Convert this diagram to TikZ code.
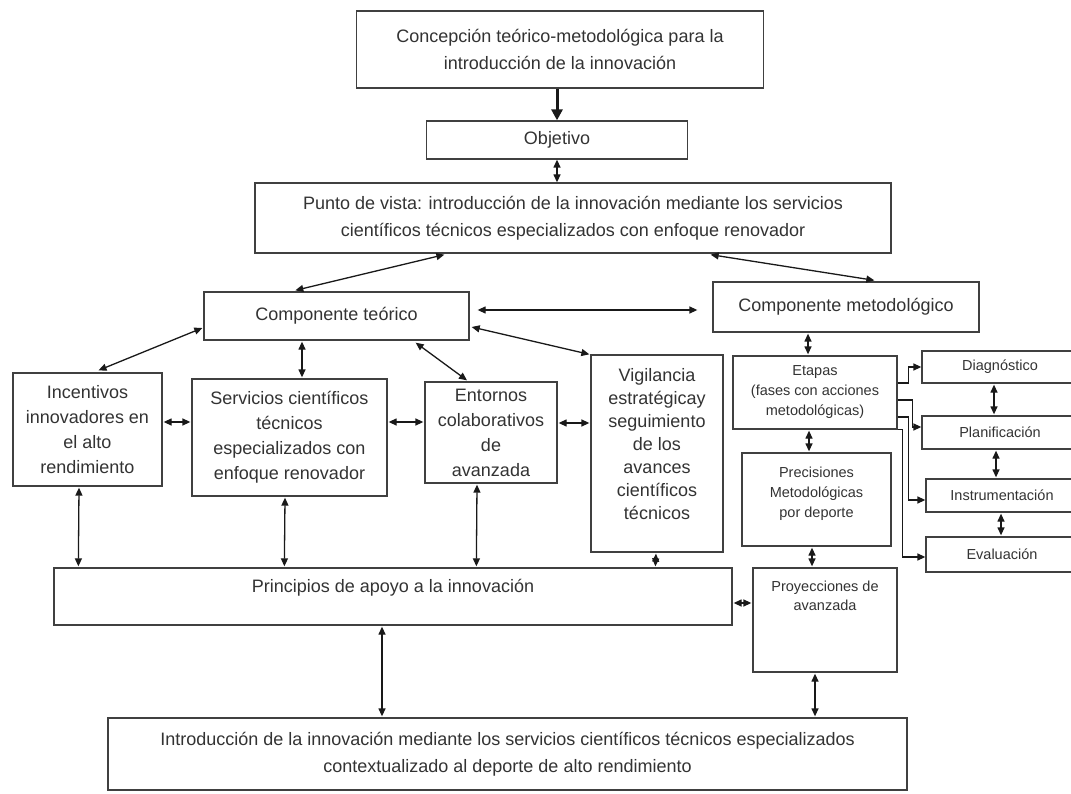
\documentclass[tikz,border=0pt]{standalone}
\usepackage{fontspec}
\setmainfont{Liberation Sans}
\usetikzlibrary{arrows.meta,calc}
\tikzset{
  box/.style={draw=black!75, line width=1.3pt, fill=white, inner sep=2pt, align=center,
    font=\fontsize{18}{25}\selectfont, text=black!80},
  sbox/.style={box, font=\fontsize{14.5}{20}\selectfont},
  lbl/.style={anchor=center, align=center, text=black!80},
  dbl/.style={{Triangle[length=8pt,width=7pt]}-{Triangle[length=8pt,width=7pt]}, line width=1.3pt, draw=black!90},
  one/.style={-{Triangle[length=8pt,width=7pt]}, line width=1.3pt, draw=black!90},
  bigarrow/.style={-{Triangle[length=11pt,width=11pt]}, line width=3pt, draw=black!90}
}
\begin{document}
\begin{tikzpicture}[x=1pt,y=-1pt]
\useasboundingbox[fill=white] (0,0) rectangle (1071,794);

\node[box, minimum width=407pt, minimum height=77pt, font=\fontsize{18}{27}\selectfont] (conc) at (560,49.5)
  {Concepción teórico-metodológica para la\\introducción de la innovación};
\node[box, minimum width=261pt, minimum height=38pt] (obj) at (557,140) {Objetivo};
\node[box, minimum width=636pt, minimum height=70pt, font=\fontsize{18}{27}\selectfont] (punto) at (573,218)
  {Punto de vista: introducción de la innovación mediante los servicios\\científicos técnicos especializados con enfoque renovador};
\node[box, minimum width=265pt, minimum height=48pt] (ct) at (336.5,316) {Componente teórico};
\node[box, minimum width=266pt, minimum height=50pt] (cm) at (846,307) {Componente metodológico};

\node[box, minimum width=149pt, minimum height=113pt] (inc) at (87.5,429.5)
  {Incentivos\\innovadores en\\el alto\\rendimiento};
\node[box, minimum width=195pt, minimum height=117pt] (serv) at (289.5,437.5)
  {Servicios científicos\\técnicos\\especializados con\\enfoque renovador};
\node[box, minimum width=132pt, minimum height=101pt] (ent) at (491,432.5)
  {Entornos\\colaborativos\\de\\avanzada};
\node[box, minimum width=132pt, minimum height=197pt, font=\fontsize{18}{23}\selectfont] (vig) at (657,453.5)
  {Vigilancia\\estratégicay\\seguimiento\\de los\\avances\\científicos\\técnicos\\[-4pt]};

\node[sbox, minimum width=164pt, minimum height=73pt] (etapas) at (815,392.5)
  {Etapas\\(fases con acciones\\metodológicas)};
\node[sbox, minimum width=156pt, minimum height=32pt] (diag) at (1000,367) {Diagnóstico};
\node[sbox, minimum width=156pt, minimum height=33pt] (plan) at (1000,432.5) {Planificación};
\node[sbox, minimum width=152pt, minimum height=33pt] (instr) at (1002,495.5) {Instrumentación};
\node[sbox, minimum width=152pt, minimum height=35pt] (eval) at (1002,554.5) {Evaluación};
\node[sbox, minimum width=149pt, minimum height=93pt] (prec) at (816.5,499.5)
  {Precisiones\\Metodológicas\\por deporte\\[-5pt]};

\node[box, minimum width=678pt, minimum height=57pt,
  label={[lbl, yshift=-20pt, font=\fontsize{18}{25}\selectfont]north:Principios de apoyo a la innovación}] (princ) at (393,596.5) {};
\node[sbox, minimum width=144pt, minimum height=104pt,
  label={[lbl, yshift=-28.5pt, font=\fontsize{14.5}{19}\selectfont]north:{Proyecciones de\\avanzada}}] (proy) at (825,620) {};
\node[box, minimum width=799pt, minimum height=72pt, font=\fontsize{18}{27}\selectfont] (bot) at (507.5,754)
  {Introducción de la innovación mediante los servicios científicos técnicos especializados\\contextualizado al deporte de alto rendimiento};

% top spine
\draw[bigarrow] (conc.south -| obj.north) -- (obj.north);
\draw[dbl] (obj.south) -- (obj.south |- punto.north);
\draw[dbl] ($(punto.south west)+(190,1)$) -- ($(ct.north west)+(92,-1)$);
\draw[dbl] ($(punto.south east)+(-181,1)$) -- ($(cm.north west)+(162,-1)$);
\draw[dbl] ($(ct.east)+(8,-6)$) -- ($(cm.west)+(-15,3)$);

% theoretical component
\draw[dbl] ($(ct.west)+(-1,12)$) -- ($(inc.north)+(11,-2)$);
\draw[dbl] ($(ct.south)+(-34.5,1)$) -- ($(serv.north)+(12.5,-1)$);
\draw[dbl] ($(ct.south east)+(-54,2)$) -- ($(ent.north)+(-24,-1)$);
\draw[dbl] ($(ct.east)+(2,11)$) -- ($(vig.north west)+(-1,0)$);

\draw[dbl] ($(inc.east)+(1,-7.5)$) -- ($(serv.west)+(-1,-15.5)$);
\draw[dbl] ($(serv.east)+(1,-15.5)$) -- ($(ent.west)+(-1,-10.5)$);
\draw[dbl] ($(ent.east)+(1,-9.5)$) -- ($(vig.west)+(-1,-30.5)$);

\draw[dbl] ($(inc.south)+(-8.5,1)$) -- ($(princ.north west)+(25,-1)$);
\draw[dbl] ($(serv.south)+(-4.5,1)$) -- ($(princ.north west)+(231,-1)$);
\draw[dbl] ($(ent.south)+(-14,1)$) -- ($(princ.north west)+(423,-1)$);
\draw[dbl] ($(vig.south)+(-1,1)$) -- ($(princ.north west)+(602,-1)$);
\draw[dbl] ($(princ.south)+(-11,1)$) -- ($(bot.north)+(-125.5,-1)$);
\draw[dbl] ($(princ.east)+(1,6.5)$) -- ($(proy.west)+(-1,-17)$);
\draw[dbl] ($(proy.south)+(-10,1)$) -- ($(bot.north)+(307.5,-1)$);

% methodological component
\draw[dbl] ($(cm.south)+(-38,1)$) -- ($(etapas.north)+(-7,-1)$);
\draw[dbl] ($(etapas.south)+(-6,1)$) -- ($(prec.north)+(-7.5,-1)$);
\draw[dbl] ($(prec.south)+(-4.5,1)$) -- ($(proy.north)+(-13,-1)$);
\draw[dbl] ($(diag.south)+(-6,1)$) -- ($(plan.north)+(-6,-1)$);
\draw[dbl] ($(plan.south)+(-4,1)$) -- ($(instr.north)+(-6,-1)$);
\draw[dbl] ($(instr.south)+(-1,1)$) -- ($(eval.north)+(-1,-1)$);

\draw[one] ($(etapas.east)+(0,-9.5)$) -- ++(11,0) |- (diag.west);
\draw[one] ($(etapas.east)+(0,7.5)$) -- ++(15,0) |- ($(plan.west)+(0,-5.5)$);
\draw[one] ($(etapas.east)+(0,24.5)$) -- ++(11,0) |- ($(instr.west)+(0,4.5)$);
\draw[one] (etapas.south east) -- ++(5,0) |- ($(eval.west)+(0,2.5)$);
\end{tikzpicture}
\end{document}
